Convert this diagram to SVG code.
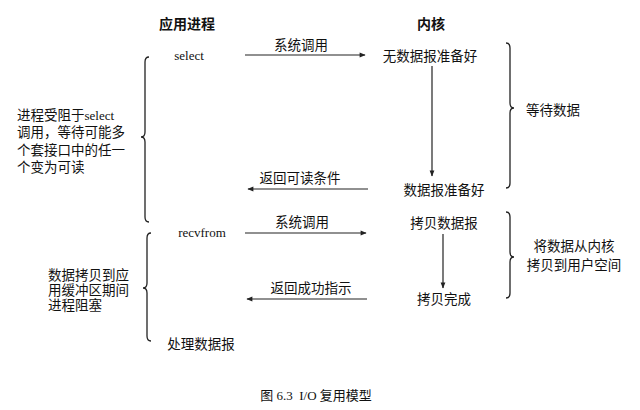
<svg xmlns="http://www.w3.org/2000/svg" width="640" height="410" viewBox="0 0 640 410">
<style>
text{font-family:"Liberation Serif","Noto Sans CJK SC",serif;font-size:13.5px;fill:#111;}
.h{font-weight:bold;font-size:14px;}
.m{text-anchor:middle;}
.lat{font-family:"Liberation Serif",serif;font-size:13px;}
.ln{stroke:#222;stroke-width:1.2;fill:none;}
.br{stroke:#222;stroke-width:1.3;fill:none;}
</style>
<defs>
<marker id="ah" viewBox="0 0 10 10" refX="9" refY="5" markerWidth="7" markerHeight="6" orient="auto" markerUnits="userSpaceOnUse">
<path d="M0,1 L10,5 L0,9 Z" fill="#222"/>
</marker>
</defs>
<rect width="640" height="410" fill="#fff"/>
<g id="headers">
<text class="h m" x="187" y="29">应用进程</text>
<text class="h m" x="431" y="29">内核</text>
</g>
<g id="app-select"><text class="lat m" x="189" y="60">select</text></g>
<g id="k-nodata"><text class="m" x="430" y="61">无数据报准备好</text></g>
<g id="k-ready"><text class="m" x="444" y="195">数据报准备好</text></g>
<g id="app-recvfrom"><text class="lat m" x="202" y="237">recvfrom</text></g>
<g id="k-copy"><text class="m" x="444" y="228">拷贝数据报</text></g>
<g id="k-done"><text class="m" x="444" y="304">拷贝完成</text></g>
<g id="app-process"><text class="m" x="201" y="349">处理数据报</text></g>
<g id="wait-label"><text class="m" x="553" y="115">等待数据</text></g>
<g id="copy-label">
<text class="m" x="574" y="251">将数据从内核</text>
<text class="m" x="574" y="270">拷贝到用户空间</text>
</g>
<g id="block-label1">
<text x="17" y="120">进程受阻于<tspan class="lat">select</tspan></text>
<text x="17" y="137">调用，等待可能多</text>
<text x="17" y="155">个套接口中的任一</text>
<text x="17" y="172">个变为可读</text>
</g>
<g id="block-label2">
<text x="48" y="280">数据拷贝到应</text>
<text x="48" y="295">用缓冲区期间</text>
<text x="48" y="310">进程阻塞</text>
</g>
<g id="connectors">
<text class="m" x="301" y="50">系统调用</text>
<line class="ln" x1="245" y1="55" x2="365" y2="55" marker-end="url(#ah)"/>
<line class="ln" x1="432" y1="66" x2="432" y2="176" marker-end="url(#ah)"/>
<text class="m" x="300" y="183">返回可读条件</text>
<line class="ln" x1="368" y1="189" x2="248" y2="189" marker-end="url(#ah)"/>
<text class="m" x="302" y="227">系统调用</text>
<line class="ln" x1="245" y1="233" x2="366" y2="233" marker-end="url(#ah)"/>
<line class="ln" x1="443" y1="234" x2="443" y2="288" marker-end="url(#ah)"/>
<text class="m" x="311" y="293">返回成功指示</text>
<line class="ln" x1="367" y1="299" x2="247" y2="299" marker-end="url(#ah)"/>
</g>
<g id="braces">
<path class="br" d="M149,57 Q145,57 145,62 L145,132 Q145,137 141,137 Q145,137 145,142 L145,217 Q145,222 149,222"/>
<path class="br" d="M151,233 Q147,233 147,238 L147,283 Q147,288 143,288 Q147,288 147,293 L147,336 Q147,341 151,341"/>
<path class="br" d="M506,43 Q510,43 510,48 L510,103 Q510,108 514,108 Q510,108 510,113 L510,183 Q510,188 506,188"/>
<path class="br" d="M506,212 Q510,212 510,217 L510,252 Q510,257 514,257 Q510,257 510,262 L510,293 Q510,298 506,298"/>
</g>
<g id="caption">
<text class="m" x="316" y="400" style="font-size:13px" xml:space="preserve">图 <tspan class="lat">6.3&#160;&#160;I/O</tspan> 复用模型</text>
</g>
</svg>
